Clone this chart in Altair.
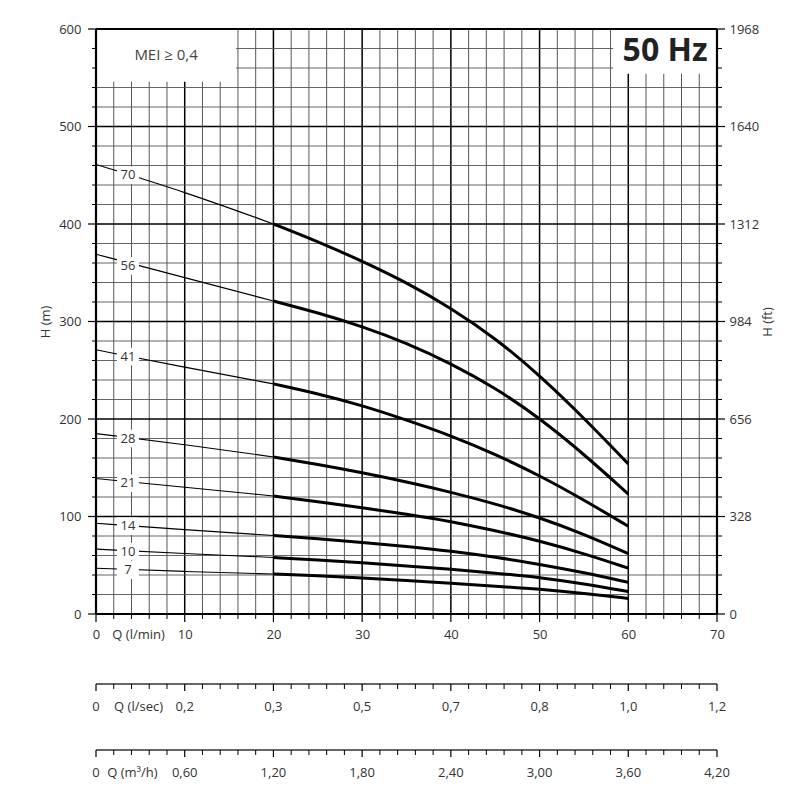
import altair as alt
import pandas as pd

# ---------------- values ----------------
Q_LMIN = [0, 10, 20, 25, 30, 35, 40, 45, 50, 55, 60]
H_70 = [461, 433, 400, 382, 362, 340, 314, 283, 245, 201, 154]
H_56 = [369, 345, 321, 309, 295, 278, 257, 232, 201, 164, 123]
H_41 = [271, 253, 236, 226, 214, 199, 183, 164, 142, 117, 90]
H_28 = [185, 174, 161, 153.5, 145, 135.5, 125, 113, 99, 82, 62]
H_21 = [139, 130, 121, 115.2, 109, 102.5, 95, 85.5, 75, 62, 47]
H_14 = [93, 86.5, 80.5, 77.2, 73.5, 69.3, 64.5, 58.3, 51, 42.5, 32.5]
H_10 = [66.5, 62, 58, 55.3, 52.5, 49.4, 46, 42, 37.5, 31, 23]
H_7 = [47, 43.5, 41, 39.2, 37, 34.4, 31.5, 28.6, 25.5, 21.2, 16]
STAGES = ["70", "56", "41", "28", "21", "14", "10", "7"]
CURVES = [H_70, H_56, H_41, H_28, H_21, H_14, H_10, H_7]
THIN_END = 20          # curves drawn thin up to this flow
LABEL_Q = 3.6          # flow where stage labels sit
LABEL_H = [450, 357, 264, 180, 134, 90, 64, 45]

X_TICKS = list(range(0, 71, 2))
X_MAJOR = list(range(0, 71, 10))
Y_TICKS = list(range(0, 601, 20))
Y_MAJOR = list(range(0, 601, 100))
LSEC_LABELS = ["0", "0,2", "0,3", "0,5", "0,7", "0,8", "1,0", "1,2"]
M3H_LABELS = ["0", "0,60", "1,20", "1,80", "2,40", "3,00", "3,60", "4,20"]
FT_PER_M = 3.28
Q_TITLE_X = [4.8, 4.8, 4.1]
Q_TITLES = ["Q (l/min)", "Q (l/sec)", "Q (m\u00b3/h)"]

MEI_BOX = dict(x=0, x2=15.8, y=546, y2=600)
HZ_BOX = dict(x=58.3, x2=70, y=554, y2=600)

# ---------------- layout ----------------
W, H = 621, 585
FONT = "Open Sans"
TXT = "#333333"
xs = alt.Scale(domain=[0, 70], nice=False, zero=False)
ys = alt.Scale(domain=[0, 600], nice=False, zero=False)

thin_rows, thick_rows = [], []
for st, arr in zip(STAGES, CURVES):
    for q, h in zip(Q_LMIN, arr):
        if q <= THIN_END:
            thin_rows.append({"stage": st, "q": q, "h": h})
        if q >= THIN_END:
            thick_rows.append({"stage": st, "q": q, "h": h})
thin_df = pd.DataFrame(thin_rows)
thick_df = pd.DataFrame(thick_rows)
lab_df = pd.DataFrame({"stage": STAGES, "q": [LABEL_Q] * len(STAGES), "h": LABEL_H})

vg_df = pd.DataFrame({"q": X_TICKS,
                      "w": [1.5 if v % 10 == 0 else 0.9 for v in X_TICKS],
                      "c": ["#000000" if v % 10 == 0 else "#444444" for v in X_TICKS]})
hg_df = pd.DataFrame({"h": Y_TICKS,
                      "w": [1.5 if v % 100 == 0 else 0.9 for v in Y_TICKS],
                      "c": ["#000000" if v % 100 == 0 else "#555555" for v in Y_TICKS]})

X = lambda f="q", axis=None: alt.X(f"{f}:Q", scale=xs, axis=axis)
Y = lambda f="h", axis=None: alt.Y(f"{f}:Q", scale=ys, axis=axis)

vgrid = alt.Chart(vg_df).mark_rule().encode(
    x=X("q"), y=alt.value(0), y2=alt.value(H),
    strokeWidth=alt.StrokeWidth("w:Q", scale=None),
    color=alt.Color("c:N", scale=None))

hgrid = alt.Chart(hg_df).mark_rule().encode(
    y=Y("h"), x=alt.value(0), x2=alt.value(W),
    strokeWidth=alt.StrokeWidth("w:Q", scale=None),
    color=alt.Color("c:N", scale=None))

box_df = pd.DataFrame([MEI_BOX, HZ_BOX])
boxes = alt.Chart(box_df).mark_rect(color="white").encode(
    x=X("x"), x2="x2", y=Y("y"), y2="y2")

thin = alt.Chart(thin_df).mark_line(color="black", strokeWidth=1.1,
                                    interpolate="basis").encode(
    x=X(), y=Y(), detail="stage:N")
thick = alt.Chart(thick_df).mark_line(color="black", strokeWidth=3,
                                      interpolate="basis").encode(
    x=X(), y=Y(), detail="stage:N")

lab_bg = alt.Chart(lab_df).mark_point(shape="M-1,-0.8H1V0.8H-1Z", filled=True,
                                      color="white", opacity=1, size=484,
                                      strokeWidth=0).encode(x=X(), y=Y())
lab_txt = alt.Chart(lab_df).mark_text(font=FONT, fontSize=13, color=TXT).encode(
    x=X(), y=Y(), text="stage:N")

frame_df = pd.DataFrame([
    {"x": 0, "x2": 0, "y": 0, "y2": 600, "w": 2.2},
    {"x": 70, "x2": 70, "y": 0, "y2": 600, "w": 2.2},
    {"x": 0, "x2": 70, "y": 600, "y2": 600, "w": 1.8},
    {"x": 0, "x2": 70, "y": 0, "y2": 0, "w": 2.2},
])
frame = alt.Chart(frame_df).mark_rule(color="black").encode(
    x=X("x"), x2="x2", y=Y("y"), y2="y2",
    strokeWidth=alt.StrokeWidth("w:Q", scale=None))

mei_txt = alt.Chart(pd.DataFrame({"x": [(MEI_BOX["x"] + MEI_BOX["x2"]) / 2],
                                  "y": [(MEI_BOX["y"] + MEI_BOX["y2"]) / 2],
                                  "t": ["MEI \u2265 0,4"]})).mark_text(
    font=FONT, fontSize=15, color="#444444").encode(x=X("x"), y=Y("y"), text="t:N")
hz_txt = alt.Chart(pd.DataFrame({"x": [(HZ_BOX["x"] + HZ_BOX["x2"]) / 2],
                                 "y": [(HZ_BOX["y"] + HZ_BOX["y2"]) / 2],
                                 "t": ["50 Hz"]})).mark_text(
    font=FONT, fontSize=32, fontWeight="bold", color="#222222").encode(
    x=X("x"), y=Y("y"), text="t:N")

major_x = pd.DataFrame({"q": X_MAJOR})
minor_x = pd.DataFrame({"q": [v for v in X_TICKS if v % 10 != 0]})
major_y = pd.DataFrame({"h": Y_MAJOR})
minor_y = pd.DataFrame({"h": [v for v in Y_TICKS if v % 100 != 0]})


def x_ticks(y0, big, small):
    a = alt.Chart(major_x).mark_rule(color="black", strokeWidth=1.2).encode(
        x=X(), y=alt.value(y0), y2=alt.value(y0 + big))
    b = alt.Chart(minor_x).mark_rule(color="black", strokeWidth=1).encode(
        x=X(), y=alt.value(y0), y2=alt.value(y0 + small))
    return [a, b]


def y_ticks(x0, sign, big, small):
    a = alt.Chart(major_y).mark_rule(color="black", strokeWidth=1.2).encode(
        y=Y(), x=alt.value(x0), x2=alt.value(x0 + sign * big))
    b = alt.Chart(minor_y).mark_rule(color="black", strokeWidth=1).encode(
        y=Y(), x=alt.value(x0), x2=alt.value(x0 + sign * small))
    return [a, b]


AX2, AX3 = H + 70, H + 136
line_df = pd.DataFrame({"x": [0], "x2": [70]})
extra = []
for yy, labels in [(AX2, LSEC_LABELS), (AX3, M3H_LABELS)]:
    extra.append(alt.Chart(line_df).mark_rule(color="#333333", strokeWidth=1.3).encode(
        x=X("x"), x2="x2", y=alt.value(yy)))
    extra += x_ticks(yy, 7, 5)
    extra.append(alt.Chart(pd.DataFrame({"q": X_MAJOR, "t": labels})).mark_text(
        font=FONT, fontSize=13, color=TXT).encode(
        x=X(), y=alt.value(yy + 23), text="t:N"))

qt_df = pd.DataFrame({"q": Q_TITLE_X, "t": Q_TITLES,
                      "py": [H + 21, AX2 + 23, AX3 + 23]})
q_titles = alt.Chart(qt_df).mark_text(font=FONT, fontSize=13, color=TXT).encode(
    x=X(), y=alt.Y("py:Q", scale=None), text="t:N")

inner = alt.layer(
    vgrid, hgrid, boxes, thin, thick, lab_bg, lab_txt, frame, mei_txt, hz_txt,
    *x_ticks(H, 8, 5), *y_ticks(0, -1, 8, 4), *y_ticks(W, 1, 8, 5),
    *extra, q_titles)

AXFMT = dict(ticks=False, domain=False, grid=False, labelFont=FONT, labelFontSize=13,
             labelColor=TXT, labelFlush=False, titleFont=FONT, titleFontSize=13,
             titleFontWeight="normal", titleColor=TXT)

left_axis = alt.Chart(major_y).mark_rule(opacity=0).encode(
    y=Y("h", alt.Axis(orient="left", values=Y_MAJOR, labelPadding=15,
                      title="H (m)", titlePadding=6, **AXFMT)),
    x=alt.value(0), x2=alt.value(1))

right_axis = alt.Chart(major_y).mark_rule(opacity=0).encode(
    y=Y("h", alt.Axis(orient="right", values=Y_MAJOR, labelPadding=12,
                      labelExpr=f"format(datum.value * {FT_PER_M}, 'd')",
                      title="H (ft)", titleAngle=270, titleBaseline="top",
                      titlePadding=3, **AXFMT)),
    x=alt.value(W), x2=alt.value(W + 1))

bottom_axis = alt.Chart(major_x).mark_rule(opacity=0).encode(
    x=X("q", alt.Axis(orient="bottom", values=X_MAJOR, labelPadding=14,
                      title=None, **AXFMT)),
    y=alt.value(H), y2=alt.value(H - 1))

chart = alt.layer(inner, left_axis, right_axis, bottom_axis).resolve_scale(
    x="independent", y="independent").properties(
    width=W, height=H,
    padding={"left": 31, "top": 15, "right": 5, "bottom": 5},
    background="white",
).configure_view(stroke=None)

chart.save("out.html", embed_options={"renderer": "svg", "actions": False})
